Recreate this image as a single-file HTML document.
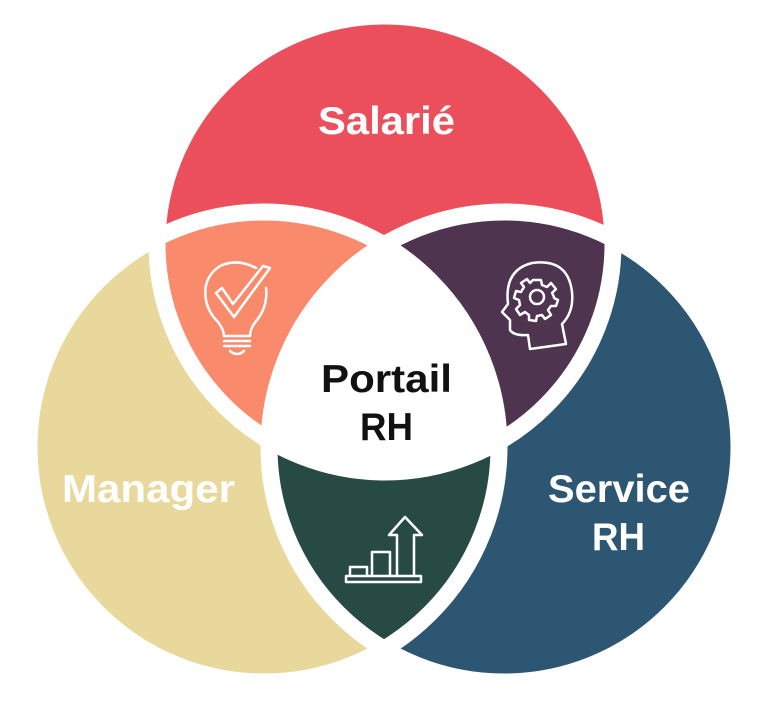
<!DOCTYPE html>
<html><head><meta charset="utf-8"><style>
html,body{margin:0;padding:0;background:#fff;}
svg{display:block;}
text{font-family:"Liberation Sans",sans-serif;font-weight:bold;}
</style></head><body>
<svg width="773" height="704" viewBox="0 0 773 704" xmlns="http://www.w3.org/2000/svg">
<defs>
<clipPath id="cT"><circle cx="385" cy="244" r="228"/></clipPath>
<clipPath id="cL"><circle cx="264" cy="447" r="235"/></clipPath>
<clipPath id="cR"><circle cx="504" cy="447" r="235"/></clipPath>
</defs>
<rect width="773" height="704" fill="#fff"/>
<circle cx="385" cy="244" r="228" fill="#EC4F5C"/>
<circle cx="264" cy="447" r="235" fill="#E9D89B"/>
<circle cx="504" cy="447" r="235" fill="#2D5673"/>
<g clip-path="url(#cT)"><circle cx="264" cy="447" r="235" fill="#F98B6C"/><circle cx="504" cy="447" r="235" fill="#4E344F"/></g>
<g clip-path="url(#cL)"><circle cx="504" cy="447" r="235" fill="#284A45"/></g>
<g clip-path="url(#cT)"><g clip-path="url(#cL)"><circle cx="504" cy="447" r="235" fill="#fff"/></g></g>
<g fill="none" stroke="#fff" stroke-width="17">
<circle cx="385" cy="244" r="228"/>
<circle cx="264" cy="447" r="235"/>
<circle cx="504" cy="447" r="235"/>
</g>
<text x="318" y="134" font-size="39" fill="#fff" textLength="137" lengthAdjust="spacingAndGlyphs">Salarié</text>
<text x="321" y="392" font-size="39" fill="#111" textLength="131" lengthAdjust="spacingAndGlyphs">Portail</text>
<text x="360" y="440" font-size="39" fill="#111" textLength="53" lengthAdjust="spacingAndGlyphs">RH</text>
<text x="62" y="502" font-size="39" fill="#fff" textLength="173" lengthAdjust="spacingAndGlyphs">Manager</text>
<text x="548" y="502" font-size="39" fill="#fff" textLength="142" lengthAdjust="spacingAndGlyphs">Service</text>
<text x="592" y="550" font-size="39" fill="#fff" textLength="53" lengthAdjust="spacingAndGlyphs">RH</text>
<!-- bulb -->
<g fill="none" stroke="#fff" stroke-width="2.5" stroke-linecap="round" stroke-linejoin="round">
<path d="M256 268 Q237 258 220 266 Q202 278 206 300 Q208 312 218 322 Q224 330 224 336 L250 336 Q250 328 257 320 Q268 306 266 288"/>
<line x1="224" y1="341" x2="250" y2="341"/>
<line x1="224" y1="346" x2="250" y2="346"/>
<path d="M230 351 Q237 357 244 351"/>
<path d="M216 293 L222 288 L233 304 L263 266 L270 268 L234 317 Z"/>
</g>
<!-- head with gear -->
<g fill="none" stroke="#fff" stroke-width="2.5" stroke-linejoin="round">
<path d="M530 349 L528 335 Q514 336 510 330 L510 320 L502 312 L508 304 Q504 270 532 263 Q568 258 572 292 Q574 312 562 324 L566 344 Z"/>
<circle cx="537" cy="297" r="7"/>
<path d="M533 280 L541 280 L542 285 L547 287 L551 283 L556 289 L552 293 L554 297 L554 298 L558 300 L556 306 L551 306 L548 310 L551 315 L545 319 L542 315 L537 316 L536 321 L529 320 L529 315 L525 312 L520 315 L516 309 L520 305 L519 300 L514 298 L516 291 L521 292 L524 287 L521 283 L527 279 L530 283 Z"/>
</g>
<!-- chart -->
<g fill="none" stroke="#fff" stroke-width="2.5" stroke-linejoin="round">
<path d="M350 576 L350 567 L367 567 L367 576"/>
<path d="M372 576 L372 552 L390 552 L390 576"/>
<path d="M397 576 L397 535 L389 535 L405 517 L422 535 L414 535 L414 576"/>
<rect x="346" y="576" width="75" height="6"/>
</g>
</svg>
</body></html>
